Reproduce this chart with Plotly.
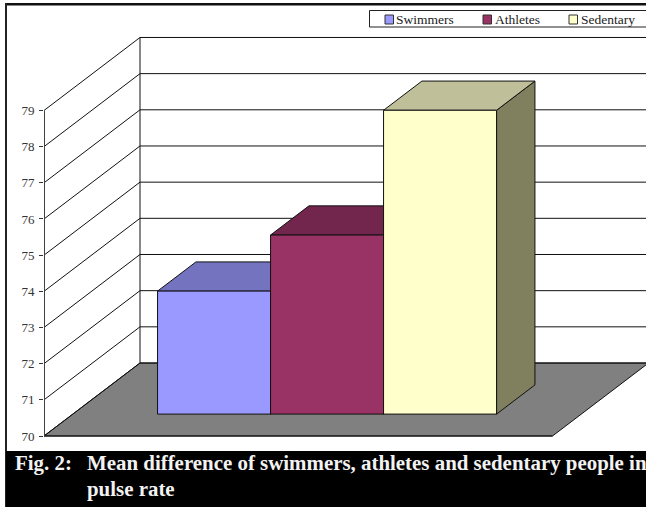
import plotly.graph_objects as go

# Chart data
series_names = ["Swimmers", "Athletes", "Sedentary"]
series_values = [73.4, 74.95, 78.4]
front_colors = ["#9999FF", "#993366", "#FFFFCC"]
top_colors = ["#7373BF", "#73264D", "#BFBF99"]
side_colors = ["#5C5C99", "#5C1F3D", "#80805F"]
axis_ticks = [70, 71, 72, 73, 74, 75, 76, 77, 78, 79]
caption_lines = [
    "Mean difference of swimmers, athletes and sedentary people in",
    "pulse rate",
]

# Oblique projection: x is measured in bar widths, y in axis units
W, H = 646, 508
PLOT_LEFT = 44
BAR_PX = 113.0
UNIT_PX = 36.17
Y_MIN = 70 - (H - 436) / UNIT_PX
Y_MAX = 70 + 436 / UNIT_PX
X_MAX = (W - PLOT_LEFT) / BAR_PX
FLOOR_WIDTH = 4.5
GAP = 0.75
DEPTH_X = 96 / BAR_PX
DEPTH_Y = 73 / UNIT_PX
BAR_NEAR = 0.3
BAR_FAR = 0.7
BASE = axis_ticks[0]


def project(x, value, depth):
    return x + depth * DEPTH_X, value + depth * DEPTH_Y


def polygon(points, color, name):
    xs = [p[0] for p in points] + [points[0][0]]
    ys = [p[1] for p in points] + [points[0][1]]
    return go.Scatter(
        x=xs, y=ys, mode="lines", fill="toself", fillcolor=color,
        line=dict(color="#111111", width=1), name=name,
        hoverinfo="skip", showlegend=False, cliponaxis=False,
    )


fig = go.Figure()

# Floor
fig.add_trace(polygon(
    [project(0, BASE, 0), project(FLOOR_WIDTH, BASE, 0),
     project(FLOOR_WIDTH, BASE, 1), project(0, BASE, 1)],
    "#808080", "floor",
))

# Gridlines run along the side wall and then across the back wall
grid_x, grid_y = [], []
for tick in axis_ticks:
    for x, y in (project(0, tick, 0), project(0, tick, 1), (X_MAX, tick + DEPTH_Y)):
        grid_x.append(x)
        grid_y.append(y)
    grid_x.append(None)
    grid_y.append(None)
# Vertical corner of the two walls
for x, y in (project(0, axis_ticks[0], 1), project(0, axis_ticks[-1], 1)):
    grid_x.append(x)
    grid_y.append(y)
fig.add_trace(go.Scatter(
    x=grid_x, y=grid_y, mode="lines", line=dict(color="#111111", width=1),
    hoverinfo="skip", showlegend=False, cliponaxis=False, name="grid",
))

# Floor again, so its back edge sits over the lowest gridline
fig.add_trace(go.Scatter(
    x=[project(0, BASE, 0)[0], project(FLOOR_WIDTH, BASE, 0)[0]],
    y=[BASE, BASE], mode="lines", line=dict(color="#111111", width=1),
    hoverinfo="skip", showlegend=False, cliponaxis=False, name="floor edge",
))

# Value axis line
fig.add_trace(go.Scatter(
    x=[0, 0], y=[axis_ticks[0], axis_ticks[-1]], mode="lines",
    line=dict(color="#404040", width=2),
    hoverinfo="skip", showlegend=False, cliponaxis=False, name="axis",
))

# Bars, drawn left to right so each front face covers its neighbour's side
for i, (name, value) in enumerate(zip(series_names, series_values)):
    left = GAP + i
    right = left + 1
    fig.add_trace(polygon(
        [project(right, BASE, BAR_NEAR), project(right, BASE, BAR_FAR),
         project(right, value, BAR_FAR), project(right, value, BAR_NEAR)],
        side_colors[i], name + " side",
    ))
    fig.add_trace(polygon(
        [project(left, value, BAR_NEAR), project(right, value, BAR_NEAR),
         project(right, value, BAR_FAR), project(left, value, BAR_FAR)],
        top_colors[i], name + " top",
    ))
    fig.add_trace(polygon(
        [project(left, BASE, BAR_NEAR), project(right, BASE, BAR_NEAR),
         project(right, value, BAR_NEAR), project(left, value, BAR_NEAR)],
        front_colors[i], name,
    ))


def px_x(px):
    return (px - PLOT_LEFT) / (W - PLOT_LEFT)


def px_y(py):
    return 1 - py / H


def box(x0, y0, x1, y1, fill, line=None, width=1):
    return dict(
        type="rect", xref="paper", yref="paper", layer="above",
        x0=px_x(x0), x1=px_x(x1), y0=px_y(y1), y1=px_y(y0),
        fillcolor=fill, line=dict(color=line or fill, width=width if line else 0),
    )


shapes = [
    box(5, 3, W, 5.5, "#111111"),        # top frame
    box(5, 3, 7, 507, "#222222"),        # left frame
    box(6, 451, W, 507, "#000000"),      # caption band
    box(369.5, 10.5, W + 2, 27, "#FFFFFF", "#222222"),  # legend box
]
annotations = []

# Legend keys and labels
legend_key_x = [385, 483, 569]
legend_text_x = [394, 492.5, 578.5]
for name, color, kx, tx in zip(series_names, front_colors, legend_key_x, legend_text_x):
    shapes.append(box(kx, 15, kx + 8.5, 24, color, "#333333"))
    annotations.append(dict(
        text=name, xref="paper", yref="paper", x=px_x(tx), y=px_y(19.5),
        xanchor="left", yanchor="middle", showarrow=False,
        font=dict(family="Liberation Serif", size=13.5, color="#222222"),
    ))

# Caption
caption_font = dict(family="Liberation Serif", size=20.9, color="#F2F2F2", weight="bold")
annotations.append(dict(
    text="Fig. 2:", xref="paper", yref="paper", x=px_x(13), y=px_y(463),
    xanchor="left", yanchor="middle", showarrow=False, font=caption_font,
))
for line, py in zip(caption_lines, [463, 489]):
    annotations.append(dict(
        text=line, xref="paper", yref="paper", x=px_x(85), y=px_y(py),
        xanchor="left", yanchor="middle", showarrow=False, font=caption_font,
    ))

fig.update_layout(
    width=W, height=H,
    margin=dict(l=PLOT_LEFT, r=0, t=0, b=0),
    paper_bgcolor="#FFFFFF", plot_bgcolor="#FFFFFF",
    showlegend=False,
    xaxis=dict(range=[0, X_MAX], visible=False, fixedrange=True),
    yaxis=dict(
        range=[Y_MIN, Y_MAX], tickmode="array", tickvals=axis_ticks,
        ticks="outside", ticklen=4, tickcolor="#333333", tickwidth=1,
        showgrid=False, zeroline=False, showline=False, fixedrange=True,
        ticklabelstandoff=2,
        tickfont=dict(family="Liberation Serif", size=13, color="#333333"),
    ),
    shapes=shapes, annotations=annotations,
)

fig.write_html("out.html", config=dict(displayModeBar=False))
